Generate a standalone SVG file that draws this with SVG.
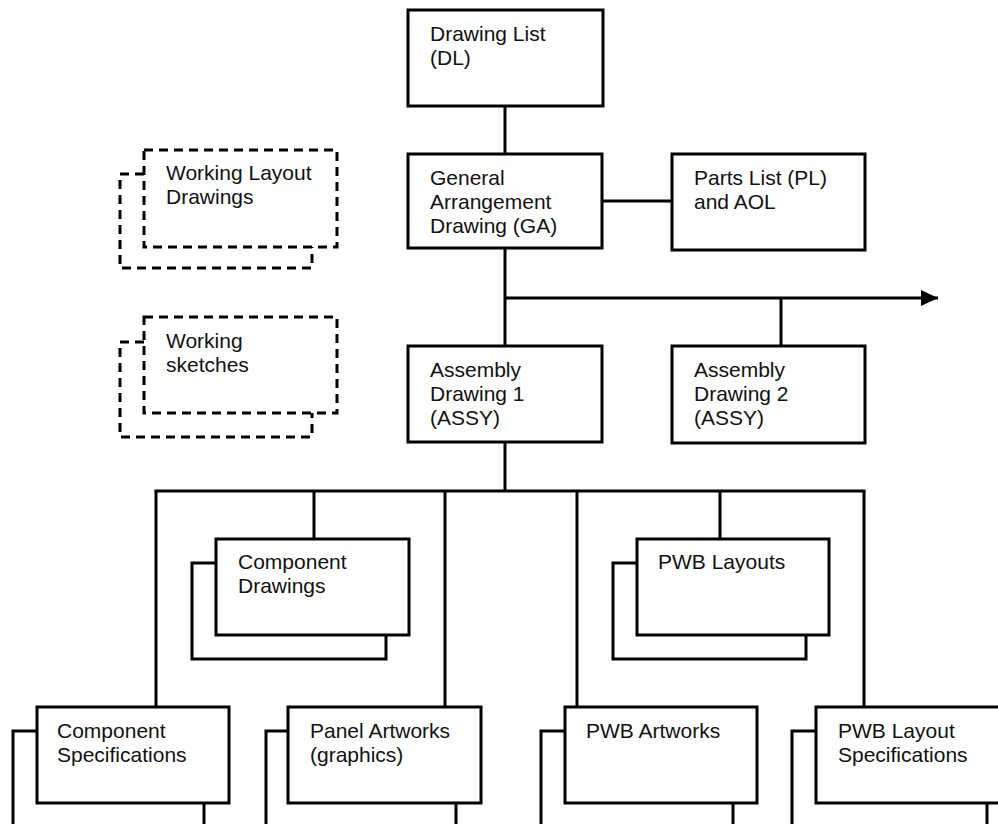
<svg xmlns="http://www.w3.org/2000/svg" width="998" height="824" viewBox="0 0 998 824">
<defs>
<style>
.box{fill:#fff;stroke:#000;stroke-width:3}
.back{fill:none;stroke:#000;stroke-width:3}
.dash{stroke-dasharray:9 6}
.ln{fill:none;stroke:#000;stroke-width:3}
text{font-family:"Liberation Sans",Arial,sans-serif;font-size:21px;fill:#111}
</style>
<marker id="arr" viewBox="0 0 17 16" refX="17" refY="8" markerWidth="17" markerHeight="16" markerUnits="userSpaceOnUse" orient="auto">
<path d="M0,0 L17,8 L0,16 Z" fill="#000"/>
</marker>
</defs>
<rect width="998" height="824" fill="#fff"/>
<g id="connectors">
<line class="ln" x1="505" y1="106" x2="505" y2="154"/>
<line class="ln" x1="602" y1="201" x2="672" y2="201"/>
<line class="ln" x1="505" y1="248" x2="505" y2="346"/>
<line class="ln" x1="505" y1="298" x2="938" y2="298" marker-end="url(#arr)"/>
<line class="ln" x1="781" y1="298" x2="781" y2="346"/>
<line class="ln" x1="505" y1="442" x2="505" y2="491"/>
<line class="ln" x1="154.5" y1="491" x2="865.5" y2="491"/>
<line class="ln" x1="156" y1="491" x2="156" y2="707"/>
<line class="ln" x1="314" y1="491" x2="314" y2="539"/>
<line class="ln" x1="445" y1="491" x2="445" y2="707"/>
<line class="ln" x1="577" y1="491" x2="577" y2="707"/>
<line class="ln" x1="720" y1="491" x2="720" y2="539"/>
<line class="ln" x1="864" y1="491" x2="864" y2="707"/>
</g>
<g id="dl">
<rect class="box" x="408" y="10" width="195" height="96"/>
<text x="430" y="41">Drawing List</text>
<text x="430" y="65">(DL)</text>
</g>
<g id="ga">
<rect class="box" x="408" y="154" width="194" height="94"/>
<text x="430" y="185">General</text>
<text x="430" y="209">Arrangement</text>
<text x="430" y="233">Drawing (GA)</text>
</g>
<g id="pl">
<rect class="box" x="672" y="154" width="193" height="96"/>
<text x="694" y="185">Parts List (PL)</text>
<text x="694" y="209">and AOL</text>
</g>
<g id="wld">
<polyline class="back dash" points="144,174 120,174 120,268 312,268 312,247"/>
<rect class="box dash" x="144" y="150" width="193" height="97"/>
<text x="166" y="180">Working Layout</text>
<text x="166" y="204">Drawings</text>
</g>
<g id="ws">
<polyline class="back dash" points="144,342 120,342 120,437 312,437 312,413"/>
<rect class="box dash" x="144" y="317" width="193" height="96"/>
<text x="166" y="348">Working</text>
<text x="166" y="372">sketches</text>
</g>
<g id="ad1">
<rect class="box" x="408" y="346" width="194" height="96"/>
<text x="430" y="377">Assembly</text>
<text x="430" y="401">Drawing 1</text>
<text x="430" y="425">(ASSY)</text>
</g>
<g id="ad2">
<rect class="box" x="672" y="346" width="193" height="97"/>
<text x="694" y="377">Assembly</text>
<text x="694" y="401">Drawing 2</text>
<text x="694" y="425">(ASSY)</text>
</g>
<g id="cd">
<polyline class="back" points="216,563 192,563 192,659 386,659 386,635"/>
<rect class="box" x="216" y="539" width="193" height="96"/>
<text x="238" y="569">Component</text>
<text x="238" y="593">Drawings</text>
</g>
<g id="pwbl">
<polyline class="back" points="637,563 613,563 613,659 806,659 806,635"/>
<rect class="box" x="637" y="539" width="192" height="96"/>
<text x="658" y="569">PWB Layouts</text>
</g>
<g id="cs">
<polyline class="back" points="37,731 13,731 13,830"/>
<polyline class="back" points="204,803 204,830"/>
<rect class="box" x="37" y="707" width="192" height="96"/>
<text x="57" y="738">Component</text>
<text x="57" y="762">Specifications</text>
</g>
<g id="pa">
<polyline class="back" points="288,731 266,731 266,830"/>
<polyline class="back" points="456,803 456,830"/>
<rect class="box" x="288" y="707" width="193" height="96"/>
<text x="310" y="738">Panel Artworks</text>
<text x="310" y="762">(graphics)</text>
</g>
<g id="pwba">
<polyline class="back" points="565,731 541,731 541,830"/>
<polyline class="back" points="733,803 733,830"/>
<rect class="box" x="565" y="707" width="192" height="96"/>
<text x="586" y="738">PWB Artworks</text>
</g>
<g id="pwbls">
<polyline class="back" points="816,731 792,731 792,830"/>
<polyline class="back" points="987,803 987,830"/>
<rect class="box" x="816" y="707" width="192" height="96"/>
<text x="838" y="738">PWB Layout</text>
<text x="838" y="762">Specifications</text>
</g>
</svg>
